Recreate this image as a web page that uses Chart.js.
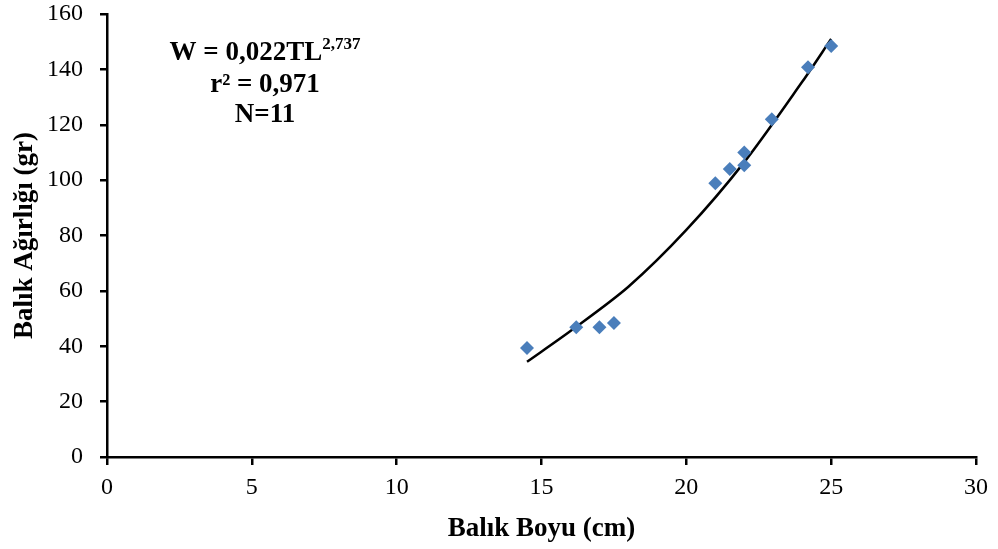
<!DOCTYPE html>
<html>
<head>
<meta charset="utf-8">
<script src="https://cdn.jsdelivr.net/npm/chart.js@4.4.1/dist/chart.umd.min.js"></script>
<style>
  html, body { margin: 0; padding: 0; background: #fff; }
  #wrap { width: 998px; height: 549px; }
</style>
</head>
<body>
<div id="wrap"><canvas id="lwChart"></canvas></div>
<script>
// Balık boyu (cm) ve ağırlığı (gr) gözlemleri
const boy = [14.5, 16.2, 17.0, 17.5, 21.0, 21.5, 22.0, 22.0, 22.95, 24.2, 25.0];
const agirlik = [39.4, 46.9, 46.9, 48.4, 98.9, 104, 110, 105.4, 122, 140.8, 148.4];

// Üstel trend çizgisi (grafikten okunan noktalar)
const trendBoy = [14.5, 16, 18, 20, 22, 24, 25];
const trendAgirlik = [34.4, 45.5, 61.5, 82, 106.5, 135.5, 151];

const xTicks = [0, 5, 10, 15, 20, 25, 30];
const yTicks = [0, 20, 40, 60, 80, 100, 120, 140, 160];

const denklem = ['W = 0,022TL', '2,737'];
const notlar = ['r² = 0,971', 'N=11'];

const serif = '"Liberation Serif", "Times New Roman", serif';

// Denklem metni (üst simge ile)
const denklemPlugin = {
    id: 'denklem',
    afterDraw(chart) {
        const c = chart.ctx;
        c.save();
        c.fillStyle = '#000';
        c.textBaseline = 'alphabetic';
        const cx = 265;
        c.font = 'bold 27px ' + serif;
        const w1 = c.measureText(denklem[0]).width;
        c.font = 'bold 17px ' + serif;
        const w2 = c.measureText(denklem[1]).width;
        const start = cx - (w1 + w2) / 2;
        c.font = 'bold 27px ' + serif;
        c.textAlign = 'left';
        c.fillText(denklem[0], start, 60);
        c.font = 'bold 17px ' + serif;
        c.fillText(denklem[1], start + w1, 49);
        c.font = 'bold 27px ' + serif;
        c.textAlign = 'center';
        c.fillText(notlar[0], cx, 92);
        c.fillText(notlar[1], cx, 122);
        c.restore();
    }
};

const ctx = document.getElementById('lwChart');
new Chart(ctx, {
    type: 'scatter',
    data: {
        datasets: [{
            label: 'Gözlem',
            data: boy.map((x, i) => ({ x: x, y: agirlik[i] })),
            pointStyle: 'rectRot',
            pointRadius: 7,
            pointBackgroundColor: '#4A7EBB',
            pointBorderColor: '#4A7EBB',
            pointBorderWidth: 0,
            order: 1
        }, {
            label: 'Trend',
            type: 'line',
            data: trendBoy.map((x, i) => ({ x: x, y: trendAgirlik[i] })),
            borderColor: '#000',
            borderWidth: 2.5,
            pointRadius: 0,
            tension: 0.3,
            fill: false,
            order: 2
        }]
    },
    options: {
        responsive: true,
        maintainAspectRatio: false,
        animation: false,
        layout: { padding: { left: 0, right: 22, top: 0, bottom: 0 } },
        scales: {
            x: {
                type: 'linear',
                min: 0,
                max: 30,
                afterBuildTicks: s => { s.ticks = xTicks.map(v => ({ value: v })); },
                afterFit: s => { s.height = 549 - 457; },
                border: { display: true, color: '#000', width: 2.5 },
                grid: { display: true, drawOnChartArea: false, drawTicks: true, tickLength: 8, color: '#000', lineWidth: 2.5 },
                ticks: { color: '#000', font: { family: serif, size: 24 }, padding: 8, maxRotation: 0 },
                title: { display: true, text: 'Balık Boyu (cm)', color: '#000', font: { family: serif, size: 27, weight: 'bold' }, padding: { top: 8, bottom: 4 } }
            },
            y: {
                min: 0,
                max: 160,
                afterBuildTicks: s => { s.ticks = yTicks.map(v => ({ value: v })); },
                afterFit: s => { s.width = 107; s.paddingTop = 14; },
                border: { display: true, color: '#000', width: 2.5 },
                grid: { display: true, drawOnChartArea: false, drawTicks: true, tickLength: 7, color: '#000', lineWidth: 2.5 },
                ticks: { color: '#000', font: { family: serif, size: 24, lineHeight: 1 }, padding: 17 },
                title: { display: true, text: 'Balık Ağırlığı (gr)', color: '#000', font: { family: serif, size: 27, weight: 'bold' }, padding: { top: 9, bottom: 6 } }
            }
        },
        plugins: {
            legend: { display: false },
            tooltip: { enabled: false }
        }
    },
    plugins: [denklemPlugin]
});
</script>
</body>
</html>
